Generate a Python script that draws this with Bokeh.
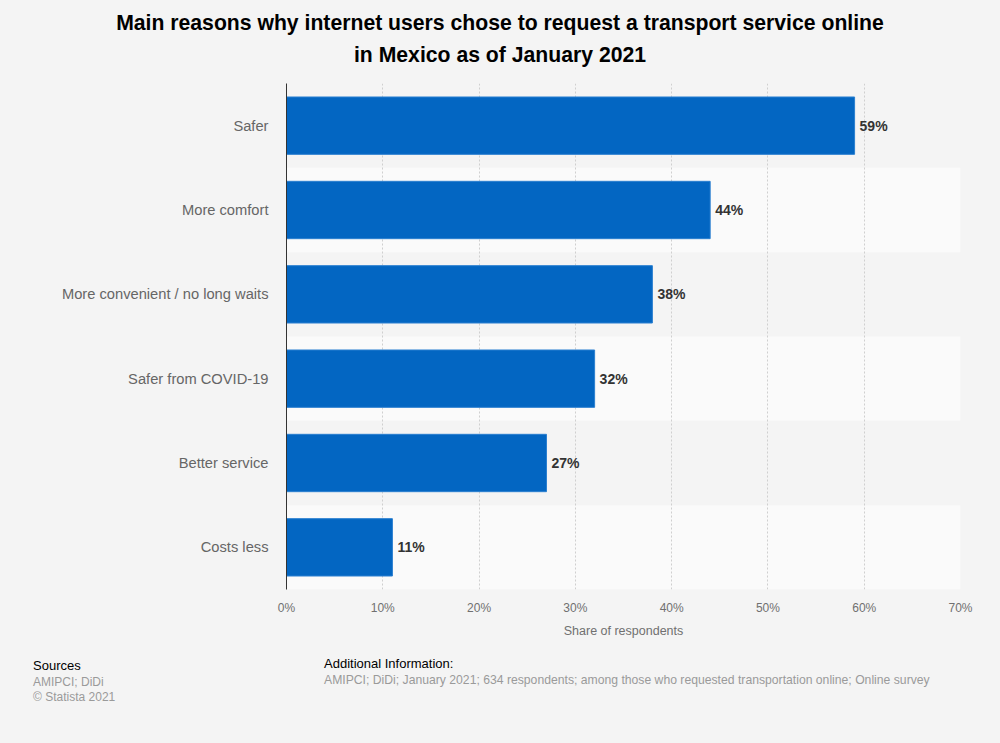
from bokeh.plotting import figure
from bokeh.models import FactorRange, Range1d, PrintfTickFormatter, FixedTicker, ColumnDataSource, Div
from bokeh.layouts import column
from bokeh.core.properties import value
from bokeh.embed import file_html
from bokeh.resources import INLINE

categories = ["Safer", "More comfort", "More convenient / no long waits",
              "Safer from COVID-19", "Better service", "Costs less"]
values = [59, 44, 38, 32, 27, 11]
tick_values = [0, 10, 20, 30, 40, 50, 60, 70]

title1 = "Main reasons why internet users chose to request a transport service online"
title2 = "in Mexico as of January 2021"
x_label = "Share of respondents"
sources_head = "Sources"
sources_lines = ["AMIPCI; DiDi", "© Statista 2021"]
info_head = "Additional Information:"
info_text = "AMIPCI; DiDi; January 2021; 634 respondents; among those who requested transportation online; Online survey"

BG = "#f4f4f4"
FONT = "Liberation Sans"


def span(txt, x, y_center, size, color, bold=False, center=False, lh=24):
    top = y_center - lh / 2
    weight = "bold" if bold else "normal"
    if center:
        pos = "left:0px;width:1000px;text-align:center;"
    else:
        pos = f"left:{x}px;"
    return (f'<div style="position:absolute;{pos}top:{top}px;line-height:{lh}px;height:{lh}px;'
            f'font-size:{size}px;font-weight:{weight};color:{color};white-space:nowrap;'
            f"font-family:'{FONT}',sans-serif;margin:0;padding:0\">{txt}</div>")


def panel(h, parts):
    inner = "".join(parts)
    html = (f'<div style="position:relative;width:1000px;height:{h}px;margin:0;padding:0;'
            f'background:{BG};overflow:hidden">{inner}</div>')
    return Div(text=html, width=1000, height=h, margin=0, styles={"background-color": BG})


# header
head = panel(83, [
    span(title1, 0, 22.5, 21.2, "#000000", bold=True, center=True),
    span(title2, 0, 54.5, 21.2, "#000000", bold=True, center=True),
])

# main chart
factors = list(reversed(categories))
p = figure(width=1000, height=567, output_backend="svg", toolbar_location=None,
           y_range=FactorRange(factors=factors, range_padding=0),
           x_range=Range1d(0, 70),
           min_border_left=286, min_border_right=40, min_border_top=0, min_border_bottom=61)
p.background_fill_color = BG
p.border_fill_color = BG
p.outline_line_color = None

band_cats = [c for i, c in enumerate(categories) if i % 2 == 1]
p.hbar(y=band_cats, left=0, right=70, height=1.0, fill_color="#fafafa", line_color=None, level="underlay")

src = ColumnDataSource(dict(cat=categories, val=values, lab=[f"{v}%" for v in values]))
p.hbar(y="cat", right="val", left=0, height=0.68, source=src, fill_color="#0366c2",
       line_color="#2a7fd0", line_width=1)
p.text(x="val", y="cat", text="lab", source=src, x_offset=5, text_baseline="middle",
       text_align="left", text_font=value(FONT), text_font_size="14px", text_font_style="bold",
       text_color="#333333")

p.xgrid.ticker = FixedTicker(ticks=tick_values)
p.xgrid.grid_line_color = "#cfcfcf"
p.xgrid.grid_line_dash = "2 2"
p.xgrid.level = "underlay"
p.ygrid.grid_line_color = None

p.xaxis.ticker = FixedTicker(ticks=tick_values)
p.xaxis.formatter = PrintfTickFormatter(format="%d%%")
p.xaxis.axis_line_color = None
p.xaxis.major_tick_line_color = None
p.xaxis.minor_tick_line_color = None
p.xaxis.major_label_text_font = FONT
p.xaxis.major_label_text_font_size = "12px"
p.xaxis.major_label_text_color = "#707070"
p.xaxis.major_label_standoff = 5
p.xaxis.axis_label = x_label
p.xaxis.axis_label_text_font = FONT
p.xaxis.axis_label_text_font_size = "12.5px"
p.xaxis.axis_label_text_font_style = "normal"
p.xaxis.axis_label_text_color = "#707070"
p.xaxis.axis_label_standoff = 6

p.yaxis.axis_line_color = "#333333"
p.yaxis.major_tick_line_color = None
p.yaxis.minor_tick_line_color = None
p.yaxis.major_label_text_font = FONT
p.yaxis.major_label_text_font_size = "14.7px"
p.yaxis.major_label_text_color = "#666666"
p.yaxis.major_label_standoff = 12

# footer
foot = panel(93, [
    span(sources_head, 33, 665.5 - 650, 13, "#000000", lh=16),
    span(sources_lines[0], 33, 681.5 - 650, 12, "#9a9a9a", lh=16),
    span(sources_lines[1], 33, 697 - 650, 12, "#9a9a9a", lh=16),
    span(info_head, 324, 664 - 650, 13, "#000000", lh=16),
    span(info_text, 324, 679.5 - 650, 12.2, "#9a9a9a", lh=16),
])

layout = column(head, p, foot, spacing=0, styles={"background-color": BG})
open("out.html", "w").write(file_html(layout, INLINE))
